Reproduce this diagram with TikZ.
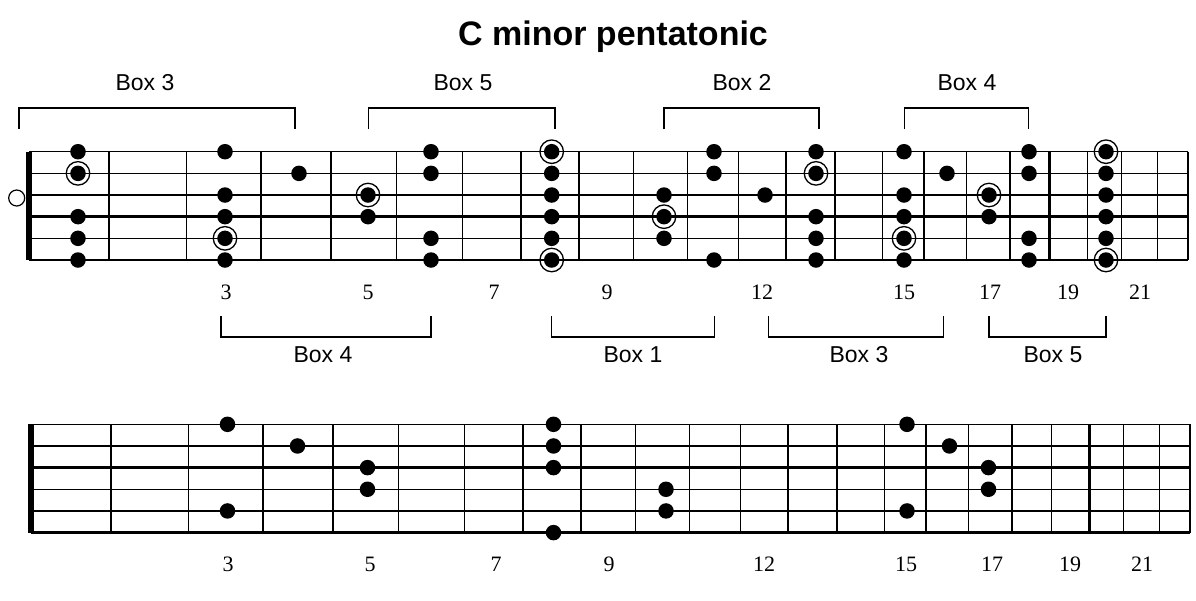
\documentclass[tikz,border=0pt]{standalone}
\usepackage{fontspec}
\setmainfont{Liberation Serif}
\setsansfont{Liberation Sans}

\tikzset{
    fretline/.style={line width=1.4pt},
    heavy/.style={line width=2.6pt},
    nutline/.style={line width=5.5pt},
    note/.style={circle, fill=black, inner sep=0pt, minimum size=15.5pt},
    ring/.style={circle, draw=black, line width=1.3pt, inner sep=0pt, minimum size=23.5pt},
    openstr/.style={circle, draw=black, line width=1.2pt, inner sep=0pt, minimum size=16pt},
    boxlabel/.style={font=\sffamily\fontsize{23}{27}\selectfont},
    fretnum/.style={font=\fontsize{22}{26}\selectfont},
    bracket/.style={line width=1.2pt},
}

% one fretboard: six strings, 21 frets, nut and fret numbers
\newcommand{\fretboard}[1]{%
    \foreach \y in {151.7,173.3,195,216.7,238.3,260}
        \draw[fretline] (29,\y) -- (1188,\y);
    \foreach \x in {109,186.7,261,331,396.7,462.3,521,579,633.3,687.7,738.3,
                    786,835,882.7,924,966.7,1010,1049.3,1087.7,1121.7,1157.7,1188}
        \draw[fretline] (\x,151.7) -- (\x,260);
    \draw[nutline] (29,151.7) -- (29,260);
    \foreach \n/\x in {3/226,5/368,7/494,9/607,12/762,15/904,17/990,19/1068,21/1140}
        \node[fretnum] (#1num\n) at (\x,292) {\n};
}

\begin{document}
\begin{tikzpicture}[x=1pt, y=-1pt]
    \useasboundingbox (0,0) rectangle (1196,600);

    % Title
    \node[font=\sffamily\bfseries\fontsize{34}{40}\selectfont] (title) at (613,37) {C minor pentatonic};

    % Upper fretboard: all five boxes, roots circled
    \fretboard{t}
    \draw[heavy] (29,195) -- (1188,195);
    \draw[heavy] (29,216.7) -- (1188,216.7);
    \draw[heavy] (331,151.7) -- (331,260);
    \draw[heavy] (1049.3,151.7) -- (1049.3,260);
    \node[openstr] (open) at (16.7,198) {};

    \foreach \x/\s [count=\i] in {78/1,78/2,78/4,78/5,78/6,
            225/1,225/3,225/4,225/5,225/6, 299/2, 368/3,368/4,
            431/1,431/2,431/5,431/6,
            551.7/1,551.7/2,551.7/3,551.7/4,551.7/5,551.7/6,
            664/3,664/4,664/5, 714/1,714/2,714/6, 765/3,
            816/1,816/2,816/4,816/5,816/6,
            904/1,904/3,904/4,904/5,904/6, 947/2, 989/3,989/4,
            1029/1,1029/2,1029/5,1029/6,
            1106/1,1106/2,1106/3,1106/4,1106/5,1106/6}
        \node[note] (t\i) at (\x,{151.7+21.66*(\s-1)}) {};

    % Roots (C)
    \foreach \x/\s [count=\i] in {78/2,225/5,368/3,551.7/1,551.7/6,664/4,
            816/2,904/5,989/3,1106/1,1106/6}
        \node[ring] (root\i) at (\x,{151.7+21.66*(\s-1)}) {};

    % Box brackets above
    \draw[bracket] (19,129) |- (295,108) -- (295,129);
    \draw[bracket] (368.5,129) |- (555,108) -- (555,129);
    \draw[bracket] (664,129) |- (819,108) -- (819,129);
    \draw[bracket] (904.5,129) |- (1028.5,108) -- (1028.5,129);
    \node[boxlabel] (upbox3) at (145,83) {Box 3};
    \node[boxlabel] (upbox5) at (463,83) {Box 5};
    \node[boxlabel] (upbox2) at (742,83) {Box 2};
    \node[boxlabel] (upbox4) at (967,83) {Box 4};

    % Box brackets below
    \draw[bracket] (221,316) |- (431,337) -- (431,316);
    \draw[bracket] (551.6,316) |- (714.4,337) -- (714.4,316);
    \draw[bracket] (768.4,316) |- (943.2,337) -- (943.2,316);
    \draw[bracket] (989,316) |- (1106,337) -- (1106,316);
    \node[boxlabel] (lowbox4) at (323,355) {Box 4};
    \node[boxlabel] (lowbox1) at (633,355) {Box 1};
    \node[boxlabel] (lowbox3) at (859,355) {Box 3};
    \node[boxlabel] (lowbox5) at (1053,355) {Box 5};

    % Lower fretboard: one path across the neck
    \begin{scope}[shift={(2,272.6)}]
        \fretboard{b}
        \draw[heavy] (29,195) -- (1188,195);
        \draw[heavy] (29,260) -- (1188,260);
        \draw[heavy] (1087.7,151.7) -- (1087.7,260);
    \end{scope}

    \foreach \x/\s [count=\i] in {227.5/1,227.5/5, 297.5/2, 367.5/3,367.5/4,
            553.5/1,553.5/2,553.5/3,553.5/6, 666/4,666/5,
            907/1,907/5, 949.5/2, 988.5/3,988.5/4}
        \node[note] (b\i) at (\x,{424.3+21.66*(\s-1)}) {};
\end{tikzpicture}
\end{document}
